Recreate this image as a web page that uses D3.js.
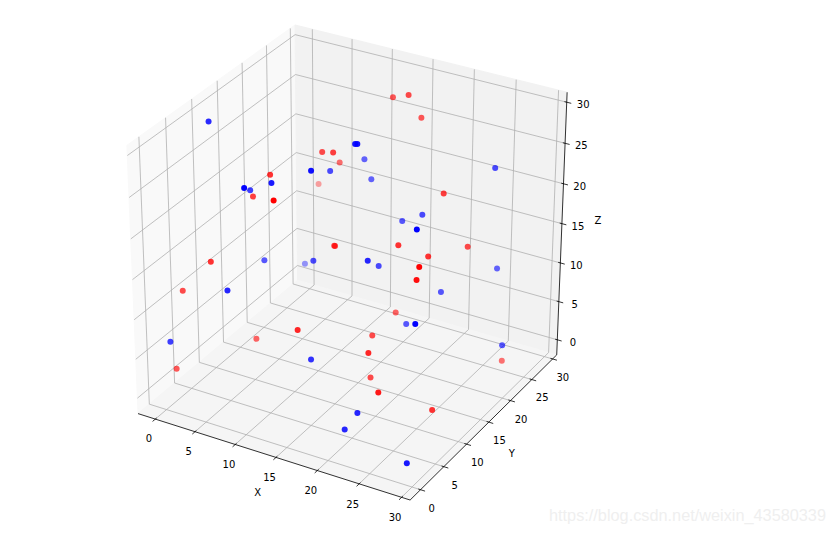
<!DOCTYPE html>
<html><head><meta charset="utf-8">
<script src="https://cdn.jsdelivr.net/npm/d3@7"></script>
<style>html,body{margin:0;background:#fff}svg{display:block}text{font-family:"DejaVu Sans";font-size:10px;fill:#000}</style>
</head><body><svg width="831" height="534"></svg>
<script>
const tickValues=[0,5,10,15,20,25,30];
const redX=[13.3,15.8,16.5,22.7,9.5,11.6,7.9,1.8,7.7,5.5,13.5,13.1,13.2,4.7,0.5,15.5,6.1,21.1,25.3,24.1,27.9,26.9,18.3,19.0,22.4,20.0,28.5,0.8,25.4,28.5];
const redY=[25.3,24.2,25.8,19.5,16.9,15.6,23.3,29.1,9.3,9.4,0.5,13.2,13.2,2.2,3.1,1.6,8.6,12.7,20.2,13.7,4.8,6.1,17.3,11.0,4.2,8.9,22.6,1.0,1.0,6.9];
const redZ=[28.6,30.0,26.7,22.0,24.7,25.8,20.0,12.9,25.0,21.7,27.7,15.9,15.9,17.0,11.7,12.1,4.4,18.5,15.8,17.5,21.8,19.3,6.9,7.5,10.0,3.6,1.0,3.0,7.8,3.3];
const blueX=[1.7,17.3,17.5,10.7,14.8,10.5,11.2,12.4,25.7,20.3,17.5,26.7,10.6,5.1,5.9,11.6,3.9,8.2,19.9,17.7,26.5,23.0,20.7,29.0,30.1,2.0,16.3,23.0,22.3,29.8];
const blueY=[7.1,10.3,10.4,16.5,5.7,5.0,22.9,22.3,25.3,19.3,20.0,6.4,-0.4,9.5,10.8,11.4,22.5,-0.2,8.4,14.6,24.8,18.7,15.3,2.1,19.4,-1.8,2.9,0.9,-0.5,-0.8];
const blueZ=[30.8,30.8,30.8,22.9,29.1,26.8,21.5,19.6,23.2,18.8,16.9,25.1,28.8,22.3,13.2,14.5,6.3,15.7,18.4,14.0,11.1,10.2,7.2,16.7,5.2,8.3,8.0,4.5,3.0,1.4];
const lim={x:[-2.2,31],y:[-2.2,31],z:[-2,31.2]};
const sx=d3.scaleLinear().domain(lim.x).range([0,1]),sy=d3.scaleLinear().domain(lim.y).range([0,1]),sz=d3.scaleLinear().domain(lim.z).range([0,1]);
const U=[Math.sqrt(3)/2,.5,0],V=[-.25,Math.sqrt(3)/4,Math.sqrt(3)/2],N=[Math.sqrt(3)/4,-.75,.5];
const dot=(a,b)=>a[0]*b[0]+a[1]*b[1]+a[2]*b[2];
const px=d3.scaleLinear().domain([0,1]).range([350.6,350.6+3141]),py=d3.scaleLinear().domain([0,1]).range([254.4,254.4-3063]);
function proj(p){const q=p.map(v=>v-.5),w=10-dot(N,q);return [px(dot(U,q)/w),py(dot(V,q)/w),dot(N,q)];}
const svg=d3.select("svg");
const P=(a,b,c)=>proj([a,b,c]).slice(0,2);
const line=d3.line();
const poly=(pts,fill)=>svg.append("path").attr("d",line(pts)+"Z").attr("fill",fill).attr("stroke",fill).attr("stroke-width",1);
poly([P(0,0,0),P(0,1,0),P(0,1,1),P(0,0,1)],"#f9f9f9");
poly([P(0,1,0),P(1,1,0),P(1,1,1),P(0,1,1)],"#f2f2f2");
poly([P(0,0,0),P(1,0,0),P(1,1,0),P(0,1,0)],"#f5f5f5");
const seg=(pts,c,w)=>svg.append("path").attr("d",line(pts)).attr("fill","none").attr("stroke",c).attr("stroke-width",w);
tickValues.forEach(t=>{const a=sx(t),b=sy(t),c=sz(t),G="#b0b0b0";
 seg([P(a,0,0),P(a,1,0),P(a,1,1)],G,.8);seg([P(1,b,0),P(0,b,0),P(0,b,1)],G,.8);seg([P(1,1,c),P(0,1,c),P(0,0,c)],G,.8);});
seg([P(0,0,0),P(1,0,0)],"#000",.8);seg([P(1,0,0),P(1,1,0)],"#000",.8);seg([P(1,1,0),P(1,1,1)],"#000",.8);
const lab=(p,s)=>svg.append("text").attr("x",p[0]).attr("y",p[1]).attr("text-anchor","middle").attr("dominant-baseline","central").text(s);
tickValues.forEach(t=>{const a=sx(t),b=sy(t),c=sz(t);
 seg([P(a,.008,0),P(a,-.016,0)],"#000",.8);seg([P(1-.008,b,0),P(1+.016,b,0)],"#000",.8);seg([P(1-.008,1,c),P(1+.016,1,c)],"#000",.8);
 lab(P(a,-.04,-.055),t);lab(P(1.04,b,-.06),t);lab(P(1.05,1.016,c-.004),t);});
lab(P(.51,-.1,-.08),"X");lab(P(1.095,.5,-.08),"Y");lab(P(1.093,1.074,.515),"Z");
const alpha=d3.scaleLinear().domain([-.6,.5]).range([.3,1]).clamp(true);
function scatter(xs,ys,zs,col){
 const pts=xs.map((x,i)=>proj([sx(x),sy(ys[i]),sz(zs[i])]));
 svg.append("g").selectAll("circle").data(pts).join("circle").attr("cx",d=>d[0]).attr("cy",d=>d[1]).attr("r",3).attr("fill",col).attr("fill-opacity",d=>alpha(d[2]));
}
scatter(redX,redY,redZ,"#f00");scatter(blueX,blueY,blueZ,"#00f");
svg.append("text").attr("x",549).attr("y",521).style("font-family","Liberation Sans").style("font-size","16.3px").style("fill","#efefef").text("https://blog.csdn.net/weixin_43580339");
</script></body></html>
